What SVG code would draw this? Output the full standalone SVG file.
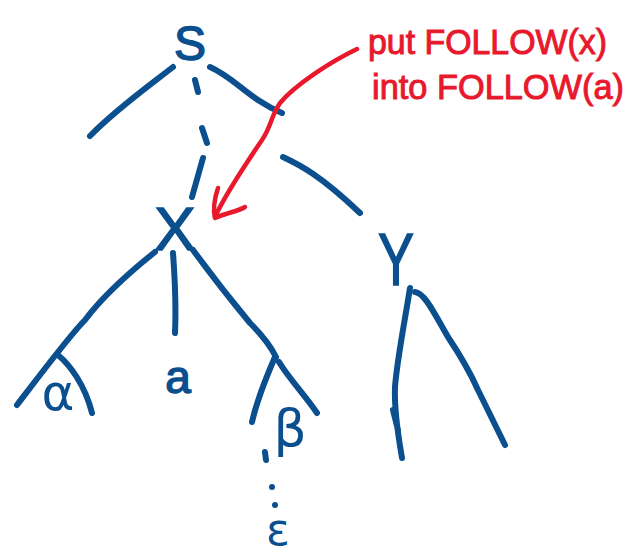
<svg xmlns="http://www.w3.org/2000/svg" width="636" height="559" viewBox="0 0 636 559">
<style>
.e{fill:none;stroke:#0b4f8f;stroke-width:6;stroke-linecap:round;stroke-linejoin:round}
.r{fill:none;stroke:#e8192c;stroke-width:4.5;stroke-linecap:round;stroke-linejoin:round}
.t{font-family:"Liberation Sans",Arial,sans-serif;fill:#0b4f8f;stroke:#0b4f8f;stroke-width:1.5;text-anchor:middle}
.g{font-family:"DejaVu Sans","Liberation Sans",sans-serif;fill:#0b4f8f;text-anchor:middle}
.n{font-family:"Liberation Sans",Arial,sans-serif;fill:#e8192c;stroke:#e8192c;stroke-width:1;font-size:35px}
</style>
<rect width="636" height="559" fill="#ffffff"/>
<g id="connectors">
<path class="e" d="M173 67 C150 85 115 110 90 136"/>
<path class="e" d="M210 67 C235 78 250 100 282 113"/>
<path class="e" d="M283 157 C300 165 320 175 360 213"/>
<path class="e" d="M195 80 L198 92 M202 128 L207 143 M203 158 L192 197"/>
<path class="e" d="M155 252 C120 280 100 300 85 320 C70 335 40 375 17 405"/>
<path class="e" d="M58 355 C70 365 85 385 92 413"/>
<path class="e" d="M173 253 C175 280 176 310 175 333"/>
<path class="e" d="M193 250 C215 280 235 305 250 323 C262 335 270 345 276 357"/>
<path class="e" d="M275 357 C265 380 257 400 252 422"/>
<path class="e" d="M279 362 C290 380 305 395 317 413"/>
<path class="e" d="M265 452 L266 460"/>
<circle cx="272" cy="487" r="3" fill="#0b4f8f"/>
<circle cx="275" cy="505" r="3" fill="#0b4f8f"/>
<path class="e" d="M410 288 C405 320 397 360 395 387 C394 410 398 435 402 458 M393 410 L398 430"/>
<path class="e" d="M415 292 C425 293 435 315 448 337 C460 355 470 372 478 390 L505 445"/>
</g>
<g id="node-S"><text class="t" x="190" y="60" font-size="48">S</text></g>
<g id="node-X"><text class="t" x="175" y="250" font-size="62">X</text></g>
<g id="node-Y"><text class="t" x="396" y="285" font-size="75" textLength="36" lengthAdjust="spacingAndGlyphs">Y</text></g>
<g id="node-alpha"><text class="g" x="58" y="410" font-size="50">α</text></g>
<g id="node-a"><text class="t" x="178" y="393" font-size="46">a</text></g>
<g id="node-beta"><text class="g" x="290" y="446" font-size="52">β</text></g>
<g id="node-epsilon"><text class="g" x="278" y="545" font-size="44">ε</text></g>
<g id="annotation">
<path class="r" d="M357 49 C330 62 295 85 280 103 C270 118 272 125 262 140 C245 165 225 195 215 217"/>
<path class="r" d="M218 188 C214 200 213 210 215 218 C225 213 237 212 245 207"/>
<text class="n" x="368" y="54" textLength="239" lengthAdjust="spacingAndGlyphs">put FOLLOW(x)</text>
<text class="n" x="372" y="99" textLength="252" lengthAdjust="spacingAndGlyphs">into FOLLOW(a)</text>
</g>
</svg>
